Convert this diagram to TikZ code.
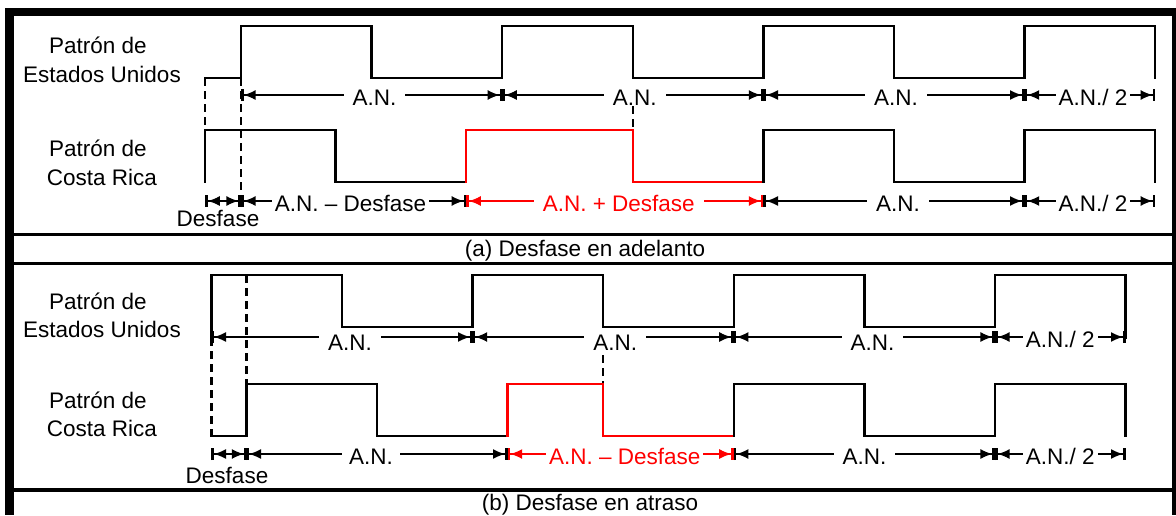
\documentclass[tikz,border=0pt]{standalone}
\usepackage{fontspec}
\setmainfont{Liberation Sans}
\usetikzlibrary{arrows.meta}

\begin{document}
\begin{tikzpicture}[x=1pt,y=-1pt,
    senal/.style={line width=2.4pt,line join=miter,line cap=rect},
    rojo/.style={color=red},
    guia/.style={line width=2.4pt,dash pattern=on 8pt off 5pt},
    cota/.style={line width=1.5pt,
      {Bar[width=12pt,line width=2.6pt]Latex[length=12pt,width=10pt]}-{Latex[length=12pt,width=10pt]Bar[width=12pt,line width=2.6pt]}},
    etiq/.style={fill=white,inner xsep=9pt,inner ysep=1pt,text height=16pt,
      text depth=0pt,yshift=-2pt,font=\fontsize{22.5}{26}\selectfont},
    apretado/.style={inner xsep=3pt},
    texto/.style={anchor=base,inner sep=0pt,font=\fontsize{22.5}{26}\selectfont}]
  \useasboundingbox (0,0) rectangle (1176,515);

  % marco
  \draw[line width=8pt] (5,12) -- (1176,12);
  \draw[line width=9pt] (9.5,8) -- (9.5,515);
  \draw[line width=4pt] (1174,8) -- (1174,515);
  \draw[line width=3pt] (9.5,234.5) -- (1174,234.5);
  \draw[line width=3pt] (9.5,263) -- (1174,263);
  \draw[line width=4pt] (9.5,490) -- (1174,490);

  % (a) desfase en adelanto
  \node[texto] (pa1) at (98,53) {Patrón de};
  \node[texto] (pa2) at (102,82) {Estados Unidos};
  \node[texto] (pa3) at (98,156) {Patrón de};
  \node[texto] (pa4) at (102,185) {Costa Rica};

  \draw[guia] (205.2,78) -- (205.2,182);
  \draw[guia] (241,78) -- (241,190);
  \draw[guia] (632.8,106) -- (632.8,130);

  \draw[senal] (205.2,78) -- (241,78) -- (241,26) -- (371.6,26) -- (371.6,78)
    -- (502.2,78) -- (502.2,26) -- (632.8,26) -- (632.8,78) -- (763.4,78)
    -- (763.4,26) -- (894,26) -- (894,78) -- (1024.6,78) -- (1024.6,26)
    -- (1155.2,26) -- (1155.2,78);
  \draw[senal] (205.2,182) -- (205.2,130) -- (335.6,130) -- (335.6,182) -- (466.2,182);
  \draw[senal,rojo] (466.2,182) -- (466.2,130) -- (632.8,130) -- (632.8,182) -- (763.4,182);
  \draw[senal] (763.4,182) -- (763.4,130) -- (894,130) -- (894,182) -- (1024.6,182)
    -- (1024.6,130) -- (1155.2,130) -- (1155.2,182);

  \draw[cota] (241,95) -- node[etiq,xshift=3pt] (ca1) {A.N.} (502.2,95);
  \draw[cota] (502.2,95) -- node[etiq,xshift=2pt] (ca2) {A.N.} (763.4,95);
  \draw[cota] (763.4,95) -- node[etiq,xshift=2pt] (ca3) {A.N.} (1024.6,95);
  \draw[cota] (1024.6,95) -- node[etiq,apretado,xshift=3pt] (ca4) {A.N./ 2} (1155.2,95);

  \draw[cota] (205.2,201) -- (241,201);
  \node[texto] (da) at (218,226) {Desfase};
  \draw[cota] (241,201) -- node[etiq,apretado,xshift=-3pt] (ca5) {A.N. – Desfase} (466.2,201);
  \draw[cota,rojo] (466.2,201) -- node[etiq,xshift=4pt,text=red] (ca6) {A.N. + Desfase} (763.4,201);
  \draw[cota] (763.4,201) -- node[etiq,xshift=4pt] (ca7) {A.N.} (1024.6,201);
  \draw[cota] (1024.6,201) -- node[etiq,apretado,xshift=3pt] (ca8) {A.N./ 2} (1155.2,201);

  \node[texto] (tita) at (585,256) {(a) Desfase en adelanto};

  % (b) desfase en atraso
  \node[texto] (pb1) at (98,309) {Patrón de};
  \node[texto] (pb2) at (102,337) {Estados Unidos};
  \node[texto] (pb3) at (98,408) {Patrón de};
  \node[texto] (pb4) at (102,436) {Costa Rica};

  \draw[guia] (211.4,338) -- (211.4,436);
  \draw[guia] (246.4,275) -- (246.4,384);
  \draw[guia] (603.2,355) -- (603.2,384);

  \draw[senal] (211.4,338) -- (211.4,275) -- (342,275) -- (342,327) -- (472.6,327)
    -- (472.6,275) -- (603.2,275) -- (603.2,327) -- (733.8,327) -- (733.8,275)
    -- (864.4,275) -- (864.4,327) -- (995,327) -- (995,275) -- (1125.6,275)
    -- (1125.6,338);
  \draw[senal] (211.4,436) -- (246.4,436) -- (246.4,384) -- (377,384) -- (377,436) -- (507.6,436);
  \draw[senal,rojo] (507.6,436) -- (507.6,384) -- (603.2,384) -- (603.2,436) -- (733.8,436);
  \draw[senal] (733.8,436) -- (733.8,384) -- (864.4,384) -- (864.4,436) -- (995,436)
    -- (995,384) -- (1125.6,384) -- (1125.6,436);

  \draw[cota] (211.4,337) -- node[etiq,xshift=8pt,yshift=-3pt] (cb1) {A.N.} (472.6,337);
  \draw[cota] (472.6,337) -- node[etiq,xshift=12pt,yshift=-3pt] (cb2) {A.N.} (733.8,337);
  \draw[cota] (733.8,337) -- node[etiq,xshift=8pt,yshift=-3pt] (cb3) {A.N.} (995,337);
  \draw[cota] (995,337) -- node[etiq,apretado] (cb4) {A.N./ 2} (1125.6,337);

  \draw[cota] (211.4,454) -- (246.4,454);
  \node[texto] (db) at (227,483) {Desfase};
  \draw[cota] (246.4,454) -- node[etiq,inner xsep=7pt,xshift=-6pt] (cb5) {A.N.} (507.6,454);
  \draw[cota,rojo] (507.6,454) -- node[etiq,apretado,xshift=4pt,text=red] (cb6) {A.N. – Desfase} (733.8,454);
  \draw[cota] (733.8,454) -- node[etiq] (cb7) {A.N.} (995,454);
  \draw[cota] (995,454) -- node[etiq,apretado] (cb8) {A.N./ 2} (1125.6,454);

  \node[texto] (titb) at (590,510) {(b) Desfase en atraso};
\end{tikzpicture}
\end{document}
